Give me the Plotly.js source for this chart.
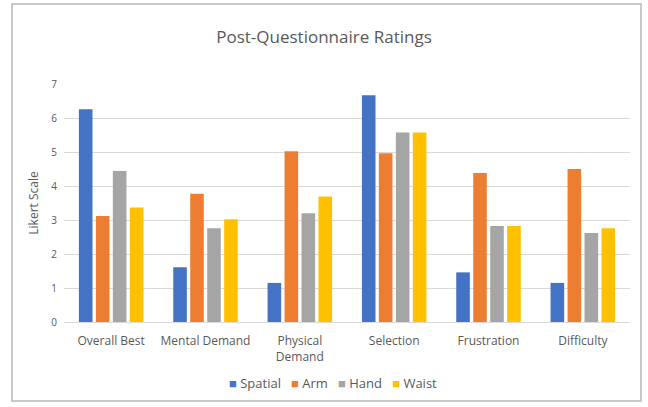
<!DOCTYPE html>
<html>
<head>
<meta charset="utf-8">
<script src="https://cdn.plot.ly/plotly-3.0.1.min.js"></script>
<style>
html,body{margin:0;padding:0;background:#fff;}
#chart{width:648px;height:407px;}
</style>
</head>
<body>
<div id="chart"></div>
<script>
var categories = ["Overall Best", "Mental Demand", "Physical<br>Demand", "Selection", "Frustration", "Difficulty"];
var spatial = [6.26, 1.61, 1.15, 6.67, 1.46, 1.15];
var arm     = [3.12, 3.77, 5.02, 4.96, 4.38, 4.50];
var hand    = [4.44, 2.76, 3.20, 5.57, 2.82, 2.62];
var waist   = [3.37, 3.02, 3.69, 5.57, 2.82, 2.76];
var seriesNames = ["Spatial", "Arm", "Hand", "Waist"];
var colors = ["#4472C4", "#ED7D31", "#A5A5A5", "#FFC000"];
var tickVals = [0, 1, 2, 3, 4, 5, 6, 7];

var seriesData = [spatial, arm, hand, waist];
var traces = seriesData.map(function(vals, i) {
  return {
    type: "bar",
    name: seriesNames[i],
    x: categories,
    y: vals,
    marker: {color: colors[i]},
    showlegend: false,
    hoverinfo: "x+y+name"
  };
});

// compact Excel-style legend built from the series names and colours
var legendText = seriesNames.map(function(n, i) {
  return "<span style='color:" + colors[i] + "'>\u25A0</span>\u00A0" + n;
}).join("\u00A0\u00A0\u00A0");

var font = "Open Sans, Liberation Sans, sans-serif";
var layout = {
  width: 648,
  height: 407,
  paper_bgcolor: "#ffffff",
  plot_bgcolor: "#ffffff",
  margin: {l: 64, r: 18, t: 84, b: 85},
  font: {family: font, color: "#595959", size: 11},
  title: {
    text: "Post-Questionnaire Ratings",
    font: {family: font, size: 17, color: "#595959"},
    x: 0.5, xanchor: "center",
    y: 0.91, yanchor: "middle"
  },
  barmode: "group",
  bargap: 0.28,
  bargroupgap: 0.2,
  showlegend: false,
  xaxis: {
    showgrid: false,
    showline: true,
    linecolor: "#D9D9D9",
    linewidth: 1,
    ticks: "",
    ticklabelstandoff: 8,
    tickfont: {family: font, size: 12, color: "#595959"},
    automargin: false
  },
  yaxis: {
    range: [0, 7],
    tickvals: tickVals,
    showgrid: true,
    gridcolor: "#D9D9D9",
    gridwidth: 1,
    zeroline: false,
    showline: false,
    ticks: "",
    ticklabelstandoff: 6,
    tickfont: {family: font, size: 10, color: "#595959"},
    title: {text: "Likert Scale", font: {family: font, size: 12, color: "#595959"}, standoff: 10},
    automargin: false
  },
  annotations: [{
    xref: "paper", yref: "paper",
    x: 0.475, y: -0.256,
    xanchor: "center", yanchor: "middle",
    showarrow: false,
    text: legendText,
    font: {family: font, size: 13, color: "#595959"}
  }],
  shapes: [{
    type: "rect",
    xref: "paper", yref: "paper",
    x0: -0.0919, x1: 1.0194,
    y0: -0.332, y1: 1.336,
    line: {color: "#C8C8C8", width: 2},
    fillcolor: "rgba(0,0,0,0)",
    layer: "below"
  }]
};

Plotly.newPlot("chart", traces, layout, {displayModeBar: false, staticPlot: true});
</script>
</body>
</html>
